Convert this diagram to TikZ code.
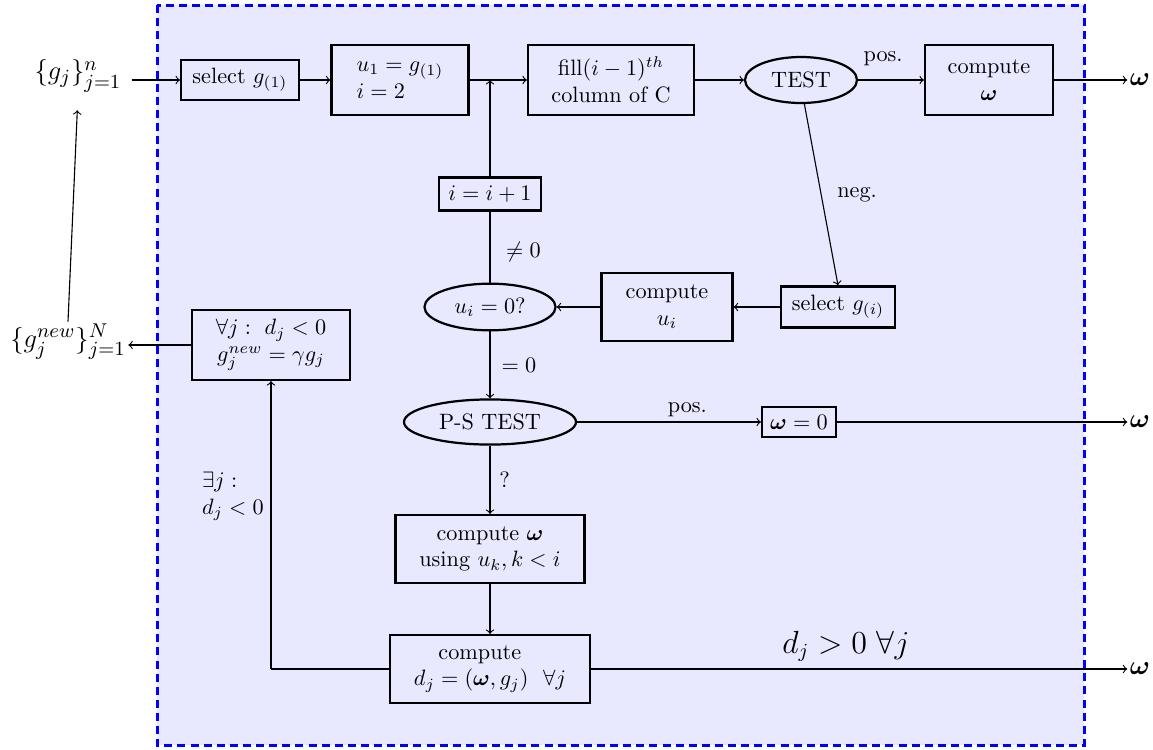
\documentclass[tikz,border=0pt]{standalone}
\usepackage{amsmath,amssymb,bm}
\usetikzlibrary{shapes.geometric,calc}
\begin{document}
\begin{tikzpicture}[x=0.45pt,y=-0.45pt,
  box/.style={draw,line width=1pt,rectangle,inner sep=0pt,align=center},
  ell/.style={draw,line width=1pt,ellipse,inner sep=0pt},
  conn/.style={->,line width=0.5pt},
  line/.style={line width=0.5pt},
  lab/.style={inner sep=1pt},
  biglab/.style={inner sep=1pt,font=\fontsize{13}{15}\selectfont}]
\useasboundingbox (0,0) rectangle (1153,749);
% frame
\draw[draw=blue,fill=blue!9,line width=1.35pt,dash pattern=on 3.6pt off 2.3pt] (157,5) rectangle (1084,745);

% nodes
\node[biglab] (gj) at (78,76) {$\{g_j\}_{j=1}^n$};
\node[biglab] (gnew) at (68,342) {$\{g_j^{new}\}_{j=1}^N$};
\node[box,minimum width=53pt,minimum height=18pt] (sel1) at (240,80) {select $g_{(1)}$};
\node[box,minimum width=61.7pt,minimum height=31.5pt,align=left] (u1) at (400,80) {$u_1=g_{(1)}$\\$i=2$};
\node[box,minimum width=74.7pt,minimum height=31.5pt] (fill) at (611,80) {fill$(i-1)^{th}$\\column of C};
\node[ell,minimum width=50.4pt,minimum height=20.7pt] (test) at (801,80) {TEST};
\node[box,minimum width=57.6pt,minimum height=31.5pt] (comega) at (989,80) {compute\\$\bm{\omega}$};
\node[lab,font=\large] (o1) at (1140,80) {$\bm{\omega}$};
\node[box,minimum width=51.3pt,minimum height=18.5pt] (seli) at (838,307) {select $g_{(i)}$};
\node[box,minimum width=59pt,minimum height=30.6pt] (cui) at (667,307) {compute\\$u_i$};
\node[ell,minimum width=59pt,minimum height=21pt] (uiz) at (490,307) {$u_i=0?$};
\node[box,minimum width=45.9pt,minimum height=14.9pt] (inc) at (490,194) {$i=i+1$};
\coordinate (jn) at (490,80);
\node[ell,minimum width=77.4pt,minimum height=20.3pt] (ps) at (490,422) {P-S TEST};
\node[box,minimum width=33.3pt,minimum height=13.5pt] (wz) at (799,422) {$\bm{\omega}=0$};
\node[lab,font=\large] (o2) at (1140,422) {$\bm{\omega}$};
\node[box,minimum width=85pt,minimum height=30.6pt] (cwu) at (490,549) {compute $\bm{\omega}$\\using $u_k,k<i$};
\node[box,minimum width=90pt,minimum height=30.6pt,align=left] (cdj) at (490,669) {\quad\kern1pt compute\\$d_j=(\bm{\omega},g_j)\ \ \forall j$};
\node[lab,font=\large] (o3) at (1140,669) {$\bm{\omega}$};
\node[box,minimum width=71pt,minimum height=31.5pt] (fa) at (271,345) {$\forall j:\ d_j<0$\\$g_j^{new}=\gamma g_j$};
\coordinate (cnr) at (271,669);

% connectors
\draw[conn,shorten <=3.5pt] (gj.east |- sel1.west) -- (sel1.west);
\draw[conn] (sel1) -- (u1);
\draw[conn] (u1) -- (fill);
\draw[conn] (inc.north) -- (jn);
\draw[conn] (fill) -- (test);
\draw[conn] (test) -- node[lab,above,pos=0.38,yshift=5pt] {pos.} (comega);
\draw[conn] (comega) -- (o1);
\draw[conn] (test.-82) -- node[lab,right,pos=0.5,xshift=6pt] {neg.} (seli.north);
\draw[conn] (seli) -- (cui);
\draw[conn] (cui) -- (uiz);
\draw[line] (uiz.north) -- node[lab,right,xshift=6pt,yshift=-2pt] {$\neq 0$} (inc.south);
\draw[conn] (uiz.south) -- node[lab,right,xshift=4pt] {$=0$} (ps.north);
\draw[conn] (ps) -- node[lab,above,pos=0.6,yshift=1pt] {pos.} (wz);
\draw[conn] (wz) -- (o2);
\draw[conn] (ps.south) -- node[lab,right,xshift=3pt] {?} (cwu.north);
\draw[conn] (cwu) -- (cdj);
\draw[conn] (cdj.east) -- node[lab,above,pos=0.475,yshift=2pt,font=\fontsize{13.5}{16}\selectfont] {$d_j>0\ \forall j$} (o3);
\draw[line] (cdj.west) -- (cnr);
\draw[conn] (cnr) -- node[lab,left,pos=0.6,align=left,xshift=-2pt] {$\exists j:$\\$d_j<0$} (fa.south);
\draw[conn] (fa.west) -- (gnew.east |- fa.west);
\draw[conn,shorten >=7pt] (gnew.north) -- (gj.south);
\end{tikzpicture}
\end{document}
